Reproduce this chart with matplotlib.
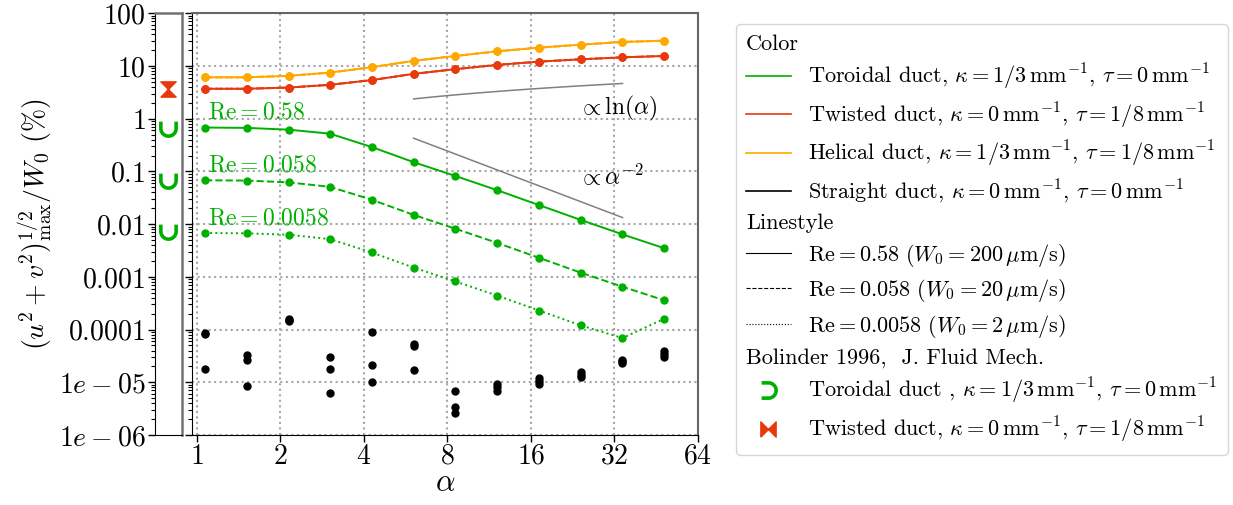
import matplotlib.pyplot as plt
import numpy as np
from matplotlib.lines import Line2D
from matplotlib.path import Path
from matplotlib.ticker import NullLocator, LogLocator

plt.rcParams['mathtext.fontset'] = 'cm'
plt.rcParams['font.family'] = 'serif'
plt.rcParams['font.serif'] = ['cmr10']
plt.rcParams['axes.formatter.use_mathtext'] = True

# pitch parameter alpha
alpha = [1.07, 1.51, 2.14, 3.02, 4.27, 6.04, 8.54, 12.1, 17.1, 24.2, 34.2, 48.3]

# max secondary velocity / W0 (%) for each duct and Reynolds number
toroidal_re058 = [0.68, 0.67, 0.62, 0.52, 0.29, 0.15, 0.082, 0.044, 0.023, 0.012, 0.0064, 0.0035]
toroidal_re0058 = [0.068, 0.067, 0.062, 0.051, 0.029, 0.015, 0.0082, 0.0044, 0.0023, 0.0012, 0.00065, 0.00036]
toroidal_re00058 = [0.0068, 0.0067, 0.0063, 0.0052, 0.0029, 0.0015, 0.00082, 0.00044, 0.00023, 0.00012, 0.000069, 0.00016]
twisted = [3.7, 3.7, 3.9, 4.4, 5.4, 7.1, 8.7, 10.5, 12.1, 13.4, 14.6, 15.5]
helical = [6.1, 6.1, 6.5, 7.5, 9.5, 12.5, 15.5, 19.0, 22.3, 25.4, 28.6, 30.2]
straight_re058 = [8.5e-5, 3.3e-5, 1.6e-4, 2.96e-5, 9.0e-5, 5.4e-5, 6.9e-6, 9.3e-6, 1.2e-5, 1.6e-5, 2.68e-5, 3.85e-5]
straight_re0058 = [8.1e-5, 2.6e-5, 1.5e-4, 1.81e-5, 2.15e-5, 4.8e-5, 3.4e-6, 8.3e-6, 1.07e-5, 1.4e-5, 2.5e-5, 3.48e-5]
straight_re00058 = [1.75e-5, 8.6e-6, 1.43e-4, 6.4e-6, 1.01e-5, 1.73e-5, 2.6e-6, 6.9e-6, 9.3e-6, 1.24e-5, 2.32e-5, 2.96e-5]

# Bolinder 1996 reference values
bolinder_toroidal = [0.66, 0.069, 0.0075]
bolinder_twisted = [3.7]

re_labels = [r'$\mathrm{Re} = 0.58$', r'$\mathrm{Re} = 0.058$', r'$\mathrm{Re} = 0.0058$']
re_label_y = [1.0, 0.1, 0.01]
ytick_vals = [1e-6, 1e-5, 1e-4, 1e-3, 1e-2, 1e-1, 1, 10, 100]
ytick_labels = ['$1e-06$', '$1e-05$', '$0.0001$', '$0.001$', '$0.01$', '$0.1$', '$1$', '$10$', '$100$']
xtick_vals = [1, 2, 4, 8, 16, 32, 64]

green = '#00B000'
red = '#E8380D'
orange = '#FFA800'
styles = ['-', '--', ':']

# marker shapes: cup for toroidal, hourglass for twisted (rotated versions for legend)
t = np.linspace(np.pi, 2 * np.pi, 25)
cup_x = np.r_[-1, np.cos(t), 1]
cup_y = np.r_[0.9, np.sin(t), 0.9]
cup = Path(np.column_stack([cup_x, cup_y]))
supset = Path(np.column_stack([-cup_y, cup_x]))
hourglass = [(-1, -1), (1, -1), (-1, 1), (1, 1), (-1, -1)]
bowtie = [(-1, -1), (-1, 1), (1, -1), (1, 1), (-1, -1)]

fig = plt.figure(figsize=(12.33, 5.05), dpi=100)
ax_ref = fig.add_axes([0.1257, 0.1386, 0.0219, 0.8351])
ax = fig.add_axes([0.1557, 0.1386, 0.4104, 0.8351])

# --- reference strip (Bolinder) ---
ax_ref.set_yscale('log')
ax_ref.set_ylim(1e-6, 100)
ax_ref.set_xlim(0, 1)
ax_ref.plot([0.5] * len(bolinder_toroidal), bolinder_toroidal, ls='none', marker=cup,
            mfc='none', mec=green, mew=2.6, ms=11)
ax_ref.plot([0.5] * len(bolinder_twisted), bolinder_twisted, ls='none', marker=hourglass,
            color=red, mew=1.0, ms=11)
ax_ref.set_xticks([])
ax_ref.set_yticks(ytick_vals)
ax_ref.set_yticklabels(ytick_labels, fontsize=20)
ax_ref.yaxis.set_minor_locator(LogLocator(base=10, subs=np.arange(2, 10), numticks=20))
ax_ref.tick_params(axis='y', which='major', length=5, width=1, pad=2)
ax_ref.tick_params(axis='y', which='minor', length=3, width=0.8)
ax_ref.set_ylabel(r'$(u^2+v^2)^{1/2}_{\mathrm{max}}/W_0\ (\%)$', fontsize=20, labelpad=2)
for side in ['top', 'right']:
    ax_ref.spines[side].set_color('0.45')
    ax_ref.spines[side].set_linewidth(1.8)

# --- main panel ---
ax.set_xscale('log', base=2)
ax.set_yscale('log')
ax.set_xlim(0.96, 64)
ax.set_ylim(1e-6, 100)
ax.grid(True, which='major', ls=':', color='0.65', lw=1.5)
ax.set_axisbelow(True)

toroidal = [toroidal_re058, toroidal_re0058, toroidal_re00058]
straight = [straight_re058, straight_re0058, straight_re00058]
for i in range(3):
    ax.plot(alpha, helical, ls=styles[i], color=orange, marker='o', ms=5, lw=1.4)
    ax.plot(alpha, twisted, ls=styles[i], color=red, marker='o', ms=5, lw=1.4)
    ax.plot(alpha, toroidal[i], ls=styles[i], color=green, marker='o', ms=5, lw=1.4)
    ax.plot(alpha, straight[i], ls='none', color='black', marker='o', ms=5)
    ax.text(1.1, re_label_y[i], re_labels[i], color=green, fontsize=17)

# scaling guides
a_fit = np.geomspace(alpha[5], alpha[10], 40)
ax.plot(a_fit, 1.32 * np.log(a_fit), color='0.5', lw=1.1)
ax.plot(a_fit, 15.6 * a_fit ** -2.0, color='0.5', lw=1.1)
ax.text(23.6, 1.2, r'$\propto \ln(\alpha)$', fontsize=17)
ax.text(23.6, 0.055, r'$\propto \alpha^{-2}$', fontsize=17)

ax.set_xticks(xtick_vals)
ax.set_xticklabels(['$%d$' % v for v in xtick_vals], fontsize=20)
ax.xaxis.set_minor_locator(NullLocator())
ax.set_yticks(ytick_vals)
ax.yaxis.set_minor_locator(LogLocator(base=10, subs=np.arange(2, 10), numticks=20))
ax.tick_params(axis='y', which='both', labelleft=False)
ax.tick_params(axis='y', which='major', length=5, width=1)
ax.tick_params(axis='y', which='minor', length=3, width=0.8)
ax.tick_params(axis='x', length=5, width=1, pad=1)
ax.set_xlabel(r'$\alpha$', fontsize=22, labelpad=0)
for side in ['top', 'right']:
    ax.spines[side].set_color('0.4')
    ax.spines[side].set_linewidth(1.5)

# --- legend ---
blank = Line2D([], [], color='none')
handles = [
    blank,
    Line2D([], [], color=green, lw=1.2),
    Line2D([], [], color=red, lw=1.2),
    Line2D([], [], color=orange, lw=1.2),
    Line2D([], [], color='black', lw=1.2),
    blank,
    Line2D([], [], color='black', ls='-', lw=0.8),
    Line2D([], [], color='black', ls='--', lw=0.8),
    Line2D([], [], color='black', ls=':', lw=0.8),
    blank,
    Line2D([], [], ls='none', marker=supset, mfc='none', mec=green, mew=2.6, ms=11),
    Line2D([], [], ls='none', marker=bowtie, color=red, mew=1.0, ms=11),
]
labels = [
    'Color',
    r'Toroidal duct, $\kappa = 1/3\,\mathrm{mm}^{-1}$, $\tau = 0\,\mathrm{mm}^{-1}$',
    r'Twisted duct, $\kappa = 0\,\mathrm{mm}^{-1}$, $\tau = 1/8\,\mathrm{mm}^{-1}$',
    r'Helical duct, $\kappa = 1/3\,\mathrm{mm}^{-1}$, $\tau = 1/8\,\mathrm{mm}^{-1}$',
    r'Straight duct, $\kappa = 0\,\mathrm{mm}^{-1}$, $\tau = 0\,\mathrm{mm}^{-1}$',
    'Linestyle',
    r'$\mathrm{Re} = 0.58\ (W_0 = 200\,\mu\mathrm{m/s})$',
    r'$\mathrm{Re} = 0.058\ (W_0 = 20\,\mu\mathrm{m/s})$',
    r'$\mathrm{Re} = 0.0058\ (W_0 = 2\,\mu\mathrm{m/s})$',
    'Bolinder 1996,  J. Fluid Mech.',
    r'Toroidal duct , $\kappa = 1/3\,\mathrm{mm}^{-1}$, $\tau = 0\,\mathrm{mm}^{-1}$',
    r'Twisted duct, $\kappa = 0\,\mathrm{mm}^{-1}$, $\tau = 1/8\,\mathrm{mm}^{-1}$',
]
headers = ['Color', 'Linestyle', 'Bolinder 1996,  J. Fluid Mech.']
leg = fig.legend(handles, labels, loc='upper left', bbox_to_anchor=(0.597, 0.952),
                 bbox_transform=fig.transFigure, fontsize=16, handlelength=2.0,
                 handletextpad=0.8, labelspacing=0.38, borderaxespad=0, borderpad=0.45)
# headers start at the handle column
for row in leg._legend_handle_box.get_children()[0].get_children():
    handle_area, text_area = row.get_children()
    if text_area.get_text() in headers:
        handle_area.width = 0
        row.sep = 0

fig.savefig('out.png', dpi=100)
